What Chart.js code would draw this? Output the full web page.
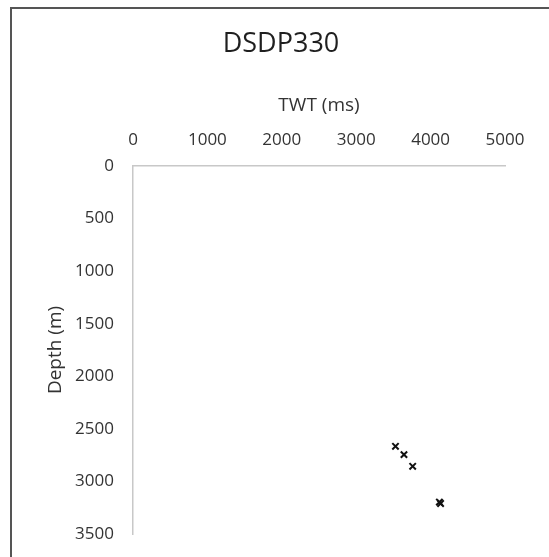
<!DOCTYPE html>
<html>
<head>
<meta charset="utf-8">
<script src="https://cdn.jsdelivr.net/npm/chart.js@4/dist/chart.umd.min.js"></script>
<style>
  html, body { margin: 0; padding: 0; background: #fff; }
  #wrap { position: relative; width: 549px; height: 557px; overflow: hidden; }
  #frame { position: absolute; left: 10px; top: 7px; width: 620px; height: 620px;
           border: 2px solid #555; box-sizing: border-box; }
  #c { position: absolute; left: 0; top: 0; }
</style>
</head>
<body>
<div id="wrap">
  <div id="frame"></div>
  <canvas id="c" width="549" height="557"></canvas>
</div>
<script>
// Two-way travel time vs. depth at site DSDP 330
const twt   = [3528, 3642, 3759, 4118, 4134];
const depth = [2666, 2745, 2856, 3196, 3210];

const xTicks = [0, 1000, 2000, 3000, 4000, 5000];
const yTicks = [0, 500, 1000, 1500, 2000, 2500, 3000, 3500];

const points = twt.map((t, i) => ({ x: t, y: depth[i] }));

const textColor = '#333333';
const axisColor = '#c8c8c8';
const family = '"Open Sans", sans-serif';
const tickFont = { family: family, size: 17 };
const axisTitleFont = { family: family, size: 19 };
const plain = v => String(v);

new Chart(document.getElementById('c'), {
  type: 'scatter',
  data: {
    datasets: [{
      data: points,
      pointStyle: 'crossRot',
      pointRadius: 4.5,
      pointBorderWidth: 2,
      borderColor: '#111',
      backgroundColor: '#111'
    }]
  },
  options: {
    responsive: false,
    animation: false,
    layout: { padding: { left: 13, top: 0, right: 0, bottom: 23 } },
    plugins: {
      legend: { display: false },
      tooltip: { enabled: false },
      title: {
        display: true,
        text: 'DSDP330',
        color: '#1f1f1f',
        font: { family: family, size: 27, weight: 'normal' },
        padding: { top: 28, bottom: 25.6 }
      }
    },
    scales: {
      x: {
        type: 'linear',
        position: 'top',
        min: xTicks[0],
        max: xTicks[xTicks.length - 1],
        afterBuildTicks: s => { s.ticks = xTicks.map(v => ({ value: v })); },
        afterFit: s => { s.height = 80; },
        ticks: { color: textColor, font: tickFont, padding: 16, maxRotation: 0, callback: plain },
        grid: { color: 'transparent', drawTicks: false, drawOnChartArea: false },
        border: { display: true, color: axisColor, width: 1.5 },
        title: { display: true, text: 'TWT (ms)', color: textColor, font: axisTitleFont,
                 padding: { top: 8.6, bottom: 0 } }
      },
      y: {
        type: 'linear',
        reverse: true,
        min: yTicks[0],
        max: yTicks[yTicks.length - 1],
        afterBuildTicks: s => { s.ticks = yTicks.map(v => ({ value: v })); },
        afterFit: s => { s.width = 120; s.paddingTop = 0; s.paddingBottom = 0; },
        ticks: { color: textColor, font: tickFont, padding: 19, callback: plain },
        grid: { color: 'transparent', drawTicks: false, drawOnChartArea: false },
        border: { display: true, color: axisColor, width: 1.5 },
        title: { display: true, text: 'Depth (m)', color: textColor, font: axisTitleFont,
                 padding: { top: 31.6, bottom: 0 } }
      },
      // empty margin on the right side of the plot
      yRight: {
        type: 'linear',
        position: 'right',
        min: yTicks[0],
        max: yTicks[yTicks.length - 1],
        afterFit: s => { s.width = 44; },
        ticks: { display: false },
        grid: { display: false, drawTicks: false },
        border: { display: false }
      }
    }
  }
});
</script>
</body>
</html>
